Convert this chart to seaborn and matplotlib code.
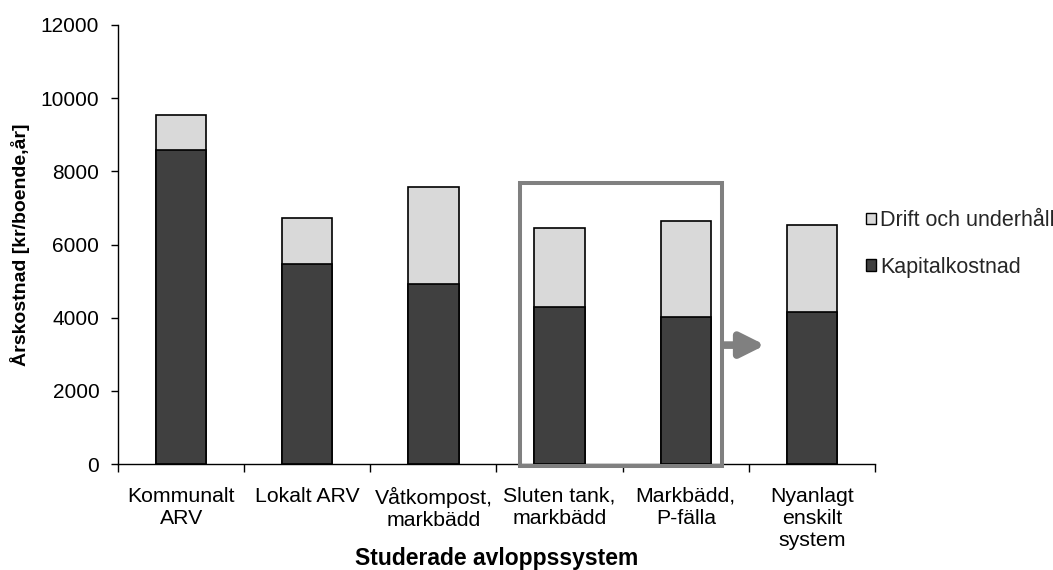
import numpy as np
import pandas as pd
import matplotlib
matplotlib.use("Agg")
import matplotlib.pyplot as plt
from matplotlib.patches import Rectangle, Patch
import seaborn as sns

# Annual cost per resident for each wastewater system (kr/boende, år)
systems = ["Kommunalt\nARV", "Lokalt ARV", "Våtkompost,\nmarkbädd",
           "Sluten tank,\nmarkbädd", "Markbädd,\nP-fälla", "Nyanlagt\nenskilt\nsystem"]
kapitalkostnad = [8590, 5470, 4920, 4280, 4010, 4160]
drift_underhall = [960, 1250, 2650, 2160, 2630, 2360]
yticks = [0, 2000, 4000, 6000, 8000, 10000, 12000]

df = pd.DataFrame({
    "system": systems,
    "Kapitalkostnad": kapitalkostnad,
    "Drift och underhåll": drift_underhall,
})
df["total"] = df["Kapitalkostnad"] + df["Drift och underhåll"]

sns.set_theme(style="white")
plt.rcParams["font.family"] = ["Liberation Sans", "DejaVu Sans"]

DARK = "#404040"
LIGHT = "#d9d9d9"
FRAME = "#808080"

W, H = 1053, 570
fig = plt.figure(figsize=(W / 100, H / 100), dpi=100)
ax = fig.add_axes([118 / W, 1 - 464 / H, (875 - 118) / W, (464 - 25) / H])

# stacked bars: full height in light grey, capital cost drawn on top in dark grey
sns.barplot(data=df, x="system", y="total", color=LIGHT, width=0.4,
            edgecolor="black", linewidth=1.2, saturation=1, ax=ax)
sns.barplot(data=df, x="system", y="Kapitalkostnad", color=DARK, width=0.4,
            edgecolor="black", linewidth=1.2, saturation=1, ax=ax)

ax.set_xlim(-0.5, len(systems) - 0.5)
ax.set_ylim(0, 12000)
ax.set_yticks(yticks)
ax.set_yticklabels([str(v) for v in yticks], fontsize=15, color="black")
ax.tick_params(axis="y", direction="out", length=5, width=1, color="black", pad=8.5, left=True)

# category labels at bar centres, tick marks between categories
ax.set_xticks(range(len(systems)))
ax.set_xticklabels(systems, fontsize=15.3, color="black", linespacing=1.2)
ax.tick_params(axis="x", which="major", length=0, pad=16.5, bottom=True)
ax.set_xticks(np.arange(-0.5, len(systems), 1), minor=True)
ax.tick_params(axis="x", which="minor", direction="out", length=6, width=1,
               color="black", bottom=True)

for side in ["top", "right"]:
    ax.spines[side].set_visible(False)
for side in ["left", "bottom"]:
    ax.spines[side].set_color("black")
    ax.spines[side].set_linewidth(1)

ax.set_xlabel("Studerade avloppssystem", fontsize=16.5, fontweight="bold", color="black")
ax.xaxis.set_label_coords(0.5, -(558 - 464) / 439)
ax.xaxis.label.set_va("center")

ax.set_ylabel("Årskostnad [kr/boende,år]", fontsize=14, fontweight="bold", color="black")
ax.yaxis.set_label_coords(-(118 - 20) / 757, 0.5)
ax.yaxis.label.set_va("center")

# highlight frame around the two on-site alternatives and arrow to the new system
ax.add_patch(Rectangle((2.686, -55), 1.6, 7725, fill=False, edgecolor=FRAME,
                       linewidth=2.9, clip_on=False, zorder=5))
ax.annotate("", xy=(4.63, 3250), xytext=(4.305, 3250),
            arrowprops=dict(arrowstyle="-|>,head_length=0.9,head_width=0.45",
                            color=FRAME, lw=5.5, shrinkA=0, shrinkB=0,
                            mutation_scale=16),
            annotation_clip=False, zorder=5)

handles = [Patch(facecolor=LIGHT, edgecolor="black", linewidth=1),
           Patch(facecolor=DARK, edgecolor="black", linewidth=1)]
fig.legend(handles, ["Drift och underhåll", "Kapitalkostnad"],
           loc="center left", bbox_to_anchor=(866 / W, 1 - 244 / H), frameon=False,
           fontsize=15.5, handlelength=0.45, handleheight=0.45, handletextpad=0.2,
           labelspacing=1.2, borderaxespad=0, borderpad=0)

fig.savefig("out.png", dpi=100, facecolor="white")
